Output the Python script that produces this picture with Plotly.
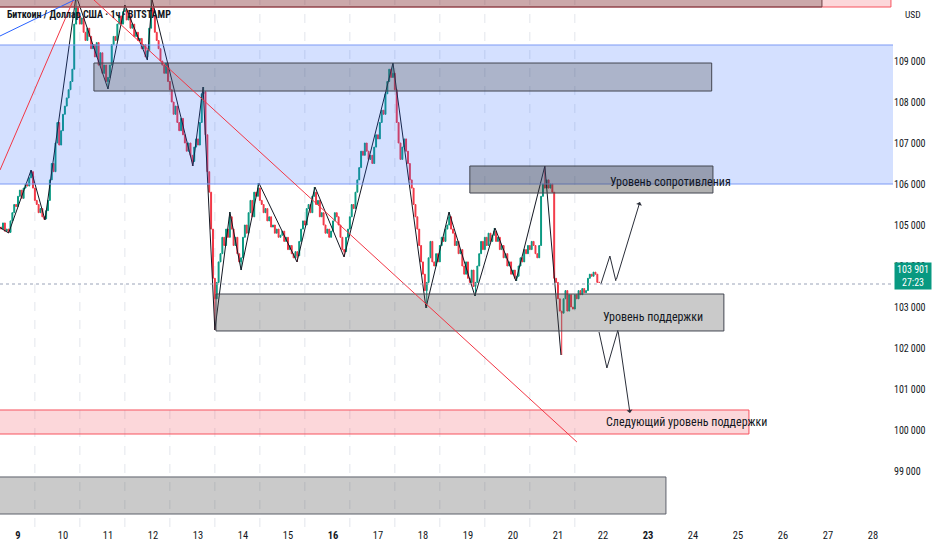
import pandas as pd
import plotly.graph_objects as go

# hourly closes BTC/USD, from 2025-06-08 14:00
close = [
    104950, 104900, 105050, 104850, 104900, 104820, 105100, 105300, 105500, 105450,
    # 9
    105700, 105850, 105650, 105900, 106000, 105950, 106150, 106300, 105900, 105600, 105500, 105300,
    105400, 105200, 105150, 105350, 105600, 106100, 106500, 106300, 107000, 107500, 106950, 107300,
    # 10
    107700, 107900, 108100, 108300, 108500, 108800, 109900, 110300, 110100, 109900, 110050, 109700,
    109500, 109800, 109600, 109300, 109400, 109100, 109450, 108900, 109200, 108700, 108900, 108500,
    # 11
    108600, 108900, 109400, 109600, 109500, 109900, 110100, 109900, 110200, 110250, 110000, 110100,
    109800, 109900, 109600, 109700, 109500, 109550, 109300, 109400, 109100, 109250, 109800, 110300,
    # 12
    110100, 109700, 109500, 109300, 109000, 108900, 108700, 108950, 108500, 108300, 108000, 107700,
    107900, 107500, 107300, 107600, 107200, 107000, 106800, 107000, 106700, 106550, 106900, 107100,
    # 13
    106950, 107500, 108200, 108250, 107200, 106300, 105800, 104900, 103700, 103200, 103600, 104100,
    104300, 104700, 104500, 104900, 104700, 105200, 104900, 104500, 104700, 104300, 104100, 104200,
    # 14
    104700, 105000, 104800, 105300, 105600, 105200, 105800, 105700, 105900, 105600, 105500, 105300,
    105400, 105100, 105200, 104950, 105000, 104800, 104900, 104700, 104750, 104850, 104600, 104700,
    # 15
    104400, 104500, 104300, 104200, 104350, 104250, 104600, 104900, 105100, 105000, 105400, 105500,
    105300, 105700, 105800, 105500, 105600, 105200, 105300, 105000, 104800, 104900, 104700, 104850,
    # 16
    105100, 105300, 105200, 105000, 104700, 104400, 104350, 104700, 104900, 105200, 105500, 105400,
    105800, 106100, 106400, 106800, 106700, 107000, 106800, 106600, 106700, 106500, 106900, 107200,
    # 17
    107100, 107500, 107800, 107700, 108200, 108500, 108800, 108600, 108700, 108300, 107500, 107000,
    106600, 106900, 107100, 106800, 106500, 106100, 105900, 105500, 105200, 104900, 104500, 104100,
    # 18
    103800, 103400, 103600, 104200, 104600, 104100, 104000, 104300, 104100, 104500, 104700, 104600,
    104900, 105000, 105200, 104900, 104800, 104500, 104600, 104300, 104400, 104000, 103800, 104100,
    # 19
    103700, 103600, 103900, 103500, 103600, 104000, 104300, 104600, 104400, 104700, 104500, 104800,
    104600, 104750, 104850, 104600, 104700, 104400, 104500, 104200, 104300, 104000, 104100, 103800,
    # 20
    103900, 103700, 103750, 104000, 104200, 104100, 104400, 104300, 104500, 104400, 104600, 104500,
    104300, 104200, 104500, 105700, 106000, 105900, 106100, 105900, 106000, 105800, 103700, 103600,
    # 21
    103200, 102900, 102850, 103200, 103400, 102900, 103300, 103000, 102950, 103300, 103200, 103400,
    103300, 103450, 103350, 103400, 103700, 103800, 103750, 103850, 103800, 103600, 103600,
]

# black zigzag drawn over the swings
zz_time = [
    "2025-06-08 14:00", "2025-06-08 19:00", "2025-06-09 07:00", "2025-06-09 14:24",
    "2025-06-10 07:00", "2025-06-11 00:00", "2025-06-11 09:00", "2025-06-11 21:00",
    "2025-06-11 23:30", "2025-06-12 21:18", "2025-06-13 02:42", "2025-06-13 09:00",
    "2025-06-13 17:00", "2025-06-13 23:00", "2025-06-14 08:30", "2025-06-15 04:48",
    "2025-06-15 14:24", "2025-06-16 05:54", "2025-06-17 08:00", "2025-06-18 01:36",
    "2025-06-18 13:54", "2025-06-19 03:42", "2025-06-19 14:24", "2025-06-20 01:36",
    "2025-06-20 17:00", "2025-06-21 01:36",
]
zz_price = [
    104950, 104805, 106341, 105122, 110600, 108317, 110366, 109024, 110500, 106439,
    108366, 102439, 105317, 103902, 106024, 104098, 105927, 104220, 108951, 102976,
    105317, 103268, 104927, 103634, 106439, 101829,
]

# forecast paths
up_time = ["2025-06-21 22:54", "2025-06-22 03:42", "2025-06-22 06:54", "2025-06-22 19:42"]
up_price = [103561, 104244, 103634, 105561]
down_time = ["2025-06-21 21:54", "2025-06-22 02:06", "2025-06-22 08:00", "2025-06-22 14:24"]
down_price = [102390, 101512, 102439, 100415]

days = list(range(9, 29))
bold_days = [9, 16, 23]
price_ticks = list(range(99000, 110000, 1000))

times = pd.date_range("2025-06-08 14:00", periods=len(close), freq="h")
opens = [close[0]] + close[:-1]
high = [max(o, c) for o, c in zip(opens, close)]
low = [min(o, c) for o, c in zip(opens, close)]
for t, p in zip(zz_time, zz_price):
    i = int(abs(times - pd.Timestamp(t)).argmin())
    high[i] = max(high[i], p)
    low[i] = min(low[i], p)

GREEN = "#089981"
RED = "#f23645"
INK = "#131722"
FONT = "Liberation Sans Narrow, Roboto Condensed, Roboto"

fig = go.Figure()
fig.add_trace(go.Candlestick(
    x=times, open=opens, high=high, low=low, close=close,
    increasing=dict(line=dict(color=GREEN, width=1), fillcolor=GREEN),
    decreasing=dict(line=dict(color=RED, width=1), fillcolor=RED),
    whiskerwidth=0, hoverinfo="skip",
))
fig.add_trace(go.Scatter(x=zz_time, y=zz_price, mode="lines",
                         line=dict(color=INK, width=1), hoverinfo="skip"))
fig.add_trace(go.Scatter(x=up_time[:-1], y=up_price[:-1], mode="lines",
                         line=dict(color="#2a2e39", width=1), hoverinfo="skip"))
fig.add_trace(go.Scatter(x=down_time[:-1], y=down_price[:-1], mode="lines",
                         line=dict(color="#2a2e39", width=1), hoverinfo="skip"))

shapes = []
# day grid (only where bars exist)
for d in pd.date_range("2025-06-09 09:00", "2025-06-21 09:00", freq="D"):
    shapes.append(dict(type="line", xref="x", yref="paper", x0=d, x1=d, y0=0, y1=1,
                       line=dict(color="#e3e6ec", width=1, dash="dash"), layer="below"))

def zone(x0, x1, y0, y1, fill, edge):
    shapes.append(dict(type="rect", xref="x", yref="y", x0=x0, x1=x1, y0=y0, y1=y1,
                       fillcolor=fill, line=dict(color=edge, width=1)))

# blue resistance band
zone("2025-06-08 12:00", "2025-06-28 12:00", 106000, 109390, "rgba(41,98,255,0.2)", "rgba(41,98,255,0)")
for lvl in (106000, 109390):
    shapes.append(dict(type="line", xref="paper", yref="y", x0=0, x1=1, y0=lvl, y1=lvl,
                       line=dict(color="#7d9af5", width=1.2)))
# top strip
zone("2025-06-08 12:00", "2025-06-28 09:36", 110317, 111500, "rgba(242,54,69,0.2)", "#f7525f")
zone("2025-06-08 12:00", "2025-06-26 20:48", 110317, 111500, "rgba(90,60,60,0.3)", "#6d3f45")
# grey boxes
zone("2025-06-10 16:30", "2025-06-24 10:00", 108268, 108951, "rgba(80,80,80,0.3)", "#434651")
zone("2025-06-19 01:00", "2025-06-24 10:40", 105780, 106439, "rgba(60,60,60,0.4)", "#434651")
zone("2025-06-13 09:36", "2025-06-24 16:30", 102415, 103317, "rgba(80,80,80,0.3)", "#434651")
zone("2025-06-08 12:00", "2025-06-23 09:36", 97951, 98854, "rgba(80,80,80,0.3)", "#5d606b")
# next support, pink
zone("2025-06-08 12:00", "2025-06-25 05:52", 99902, 100488, "rgba(242,54,69,0.2)", "#f7525f")

# trend lines
shapes.append(dict(type="line", xref="x", yref="y", x0="2025-06-08 14:24", y0=106341,
                   x1="2025-06-10 10:06", y1=110976, line=dict(color=RED, width=1)))
shapes.append(dict(type="line", xref="x", yref="y", x0="2025-06-10 10:42", y0=110732,
                   x1="2025-06-21 10:06", y1=99707, line=dict(color=RED, width=1)))
shapes.append(dict(type="line", xref="x", yref="y", x0="2025-06-08 14:24", y0=109610,
                   x1="2025-06-10 17:00", y1=110732, line=dict(color="#2962ff", width=1)))
# last price line
shapes.append(dict(type="line", xref="paper", yref="y", x0=0, x1=1, y0=103561, y1=103561,
                   line=dict(color="#9aa3b8", width=1, dash="dot")))

annotations = [
    dict(xref="paper", yref="paper", x=0, y=1, xanchor="left", yanchor="top", xshift=5, yshift=-7,
         text="<b>Биткоин / Доллар США · 1ч · BITSTAMP</b>", showarrow=False,
         font=dict(family=FONT, size=10, color=INK)),
    dict(xref="paper", yref="paper", x=1, y=1, xanchor="left", yanchor="top", xshift=10, yshift=-7,
         text="USD", showarrow=False, font=dict(family=FONT, size=9.5, color=INK)),
    dict(xref="x", yref="y", x="2025-06-22 02:40", y=106049, xanchor="left", text="Уровень сопротивления",
         showarrow=False, font=dict(family=FONT, size=12, color=INK)),
    dict(xref="x", yref="y", x="2025-06-21 23:00", y=102756, xanchor="left", text="Уровень поддержки",
         showarrow=False, font=dict(family=FONT, size=12, color=INK)),
    dict(xref="x", yref="y", x="2025-06-22 00:30", y=100195, xanchor="left",
         text="Следующий уровень поддержки",
         showarrow=False, font=dict(family=FONT, size=12, color=INK)),
    dict(xref="x", yref="y", x=up_time[-1], y=up_price[-1], ax=up_time[-2], ay=up_price[-2],
         axref="x", ayref="y", showarrow=True, arrowhead=1, arrowsize=1, arrowwidth=1,
         arrowcolor="#2a2e39", text=""),
    dict(xref="x", yref="y", x=down_time[-1], y=down_price[-1], ax=down_time[-2], ay=down_price[-2],
         axref="x", ayref="y", showarrow=True, arrowhead=1, arrowsize=1, arrowwidth=1,
         arrowcolor="#2a2e39", text=""),
    dict(xref="paper", yref="y", x=1, y=103750, xanchor="left", xshift=1,
         text="103 901<br>27:23", showarrow=False, bgcolor=GREEN, width=34, height=24,
         font=dict(family=FONT, size=10, color="white")),
]

fig.update_layout(
    width=932, height=550,
    margin=dict(l=0, r=39, t=0, b=23),
    plot_bgcolor="white", paper_bgcolor="white",
    showlegend=False,
    shapes=shapes,
    annotations=annotations,
    font=dict(family=FONT, color=INK),
    xaxis=dict(
        type="date", range=["2025-06-08 14:24", "2025-06-28 10:42"],
        rangeslider=dict(visible=False),
        tickvals=[f"2025-06-{d:02d}" for d in days],
        ticktext=[f"<b>{d}</b>" if d in bold_days else str(d) for d in days],
        showgrid=False, zeroline=False, showline=False, ticks="",
        tickfont=dict(size=10.5, color=INK),
    ),
    yaxis=dict(
        side="right", range=[97634, 110488],
        tickvals=price_ticks,
        ticktext=[f"{v // 1000}\u2009000" for v in price_ticks],
        showgrid=False, zeroline=False, showline=False, ticks="",
        tickfont=dict(size=10, color=INK),
    ),
)

# drop the page's default body margin so the figure sits at the window corner
fig.write_html("out.html", config={"displayModeBar": False},
               post_script="document.body.style.margin='0';")
